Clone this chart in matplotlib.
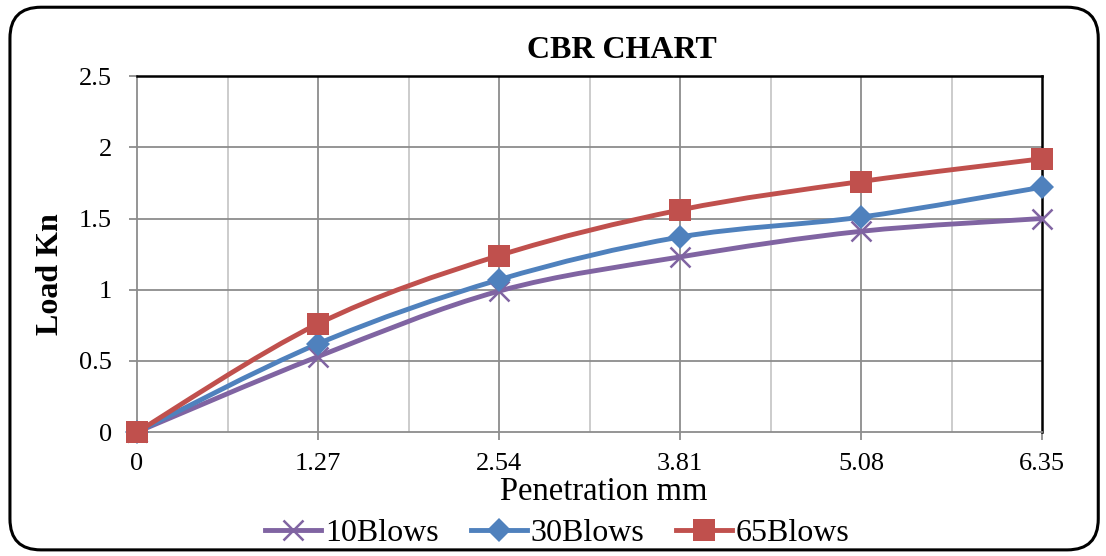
import matplotlib

matplotlib.use("Agg")
import matplotlib.pyplot as plt
from matplotlib.path import Path
from matplotlib.patches import PathPatch, FancyBboxPatch
from matplotlib.lines import Line2D

plt.rcParams["font.family"] = ["Liberation Serif", "DejaVu Serif"]

penetration = [0, 1.27, 2.54, 3.81, 5.08, 6.35]
load_10 = [0, 0.53, 0.99, 1.23, 1.41, 1.50]
load_30 = [0, 0.62, 1.07, 1.37, 1.51, 1.72]
load_65 = [0, 0.76, 1.24, 1.56, 1.76, 1.92]
series_names = ["10Blows", "30Blows", "65Blows"]
x_ticks = [0, 1.27, 2.54, 3.81, 5.08, 6.35]
x_tick_labels = ["0", "1.27", "2.54", "3.81", "5.08", "6.35"]
y_ticks = [0, 0.5, 1, 1.5, 2, 2.5]
y_tick_labels = ["0", "0.5", "1", "1.5", "2", "2.5"]


def smooth_path(xs, ys):
    # excel-like smoothing: bezier segments with catmull-rom control points
    pts = list(zip(xs, ys))
    n = len(pts)
    verts = [pts[0]]
    codes = [Path.MOVETO]
    for i in range(n - 1):
        p0 = pts[max(i - 1, 0)]
        p1 = pts[i]
        p2 = pts[i + 1]
        p3 = pts[min(i + 2, n - 1)]
        c1 = (p1[0] + (p2[0] - p0[0]) / 6, p1[1] + (p2[1] - p0[1]) / 6)
        c2 = (p2[0] - (p3[0] - p1[0]) / 6, p2[1] - (p3[1] - p1[1]) / 6)
        verts += [c1, c2, p2]
        codes += [Path.CURVE4] * 3
    return Path(verts, codes)


styles = [
    dict(color="#8064A2", marker="x", ms=14, mew=1.8),
    dict(color="#4F81BD", marker="D", ms=12.5, mew=0),
    dict(color="#C0504D", marker="s", ms=15.5, mew=0),
]
line_w = 3.5

fig = plt.figure(figsize=(11.06, 5.56), dpi=100)
ax = fig.add_axes([0.1239, 0.223, 0.8183, 0.640])

border = FancyBboxPatch(
    (0.009, 0.011), 0.984, 0.976,
    boxstyle="round,pad=0,rounding_size=0.028",
    transform=fig.transFigure, facecolor="none", edgecolor="black",
    linewidth=2.2, mutation_aspect=1106 / 556,
)
fig.patches.append(border)

ax.set_xlim(0, 6.35)
ax.set_ylim(0, 2.5)

# gridlines
for gx in [0.635 * k for k in range(1, 10, 2)]:
    ax.axvline(gx, color="#c8c8c8", linewidth=1.3, zorder=0)
for gx in x_ticks[1:-1]:
    ax.axvline(gx, color="#8c8c8c", linewidth=1.3, zorder=0)
for gy in y_ticks[1:-1]:
    ax.axhline(gy, color="#8c8c8c", linewidth=1.3, zorder=0)

handles = []
for ys, name, st in zip([load_10, load_30, load_65], series_names, styles):
    ax.add_patch(PathPatch(smooth_path(penetration, ys), facecolor="none",
                           edgecolor=st["color"], linewidth=line_w,
                           capstyle="round", zorder=3, clip_on=False))
    ax.plot(penetration, ys, linestyle="none", marker=st["marker"],
            markersize=st["ms"], color=st["color"], markeredgewidth=st["mew"],
            zorder=4, clip_on=False)
    handles.append(Line2D([], [], color=st["color"], linewidth=line_w,
                          marker=st["marker"], markersize=st["ms"],
                          markeredgewidth=st["mew"], label=name))

ax.spines["left"].set_color("#8c8c8c")
ax.spines["bottom"].set_color("#8c8c8c")
ax.spines["left"].set_linewidth(1.3)
ax.spines["bottom"].set_linewidth(1.3)
ax.spines["top"].set_color("black")
ax.spines["right"].set_color("black")
ax.spines["top"].set_linewidth(1.8)
ax.spines["right"].set_linewidth(1.8)

ax.set_xticks(x_ticks)
ax.set_xticklabels(x_tick_labels)
ax.set_yticks(y_ticks)
ax.set_yticklabels(y_tick_labels)
ax.tick_params(axis="both", direction="out", length=6, width=1.3,
               color="#8c8c8c", labelsize=19)
ax.tick_params(axis="x", pad=9)
ax.tick_params(axis="y", pad=12)

ax.text(0.536, 1.073, "CBR CHART", transform=ax.transAxes, fontsize=23,
        fontweight="bold", ha="center", va="center")
ax.set_xlabel("Penetration mm", fontsize=23.5, va="center")
ax.xaxis.set_label_coords(0.516, -0.169)
ax.set_ylabel("Load Kn", fontsize=23, fontweight="bold", va="center")
ax.yaxis.set_label_coords(-0.096, 0.444)

fig.legend(handles=handles, loc="center", bbox_to_anchor=(0.504, 0.040),
           ncol=3, frameon=False, fontsize=23, handlelength=1.75,
           handletextpad=0.12, columnspacing=1.0, borderpad=0)

fig.savefig("out.png", dpi=100)
plt.close(fig)
